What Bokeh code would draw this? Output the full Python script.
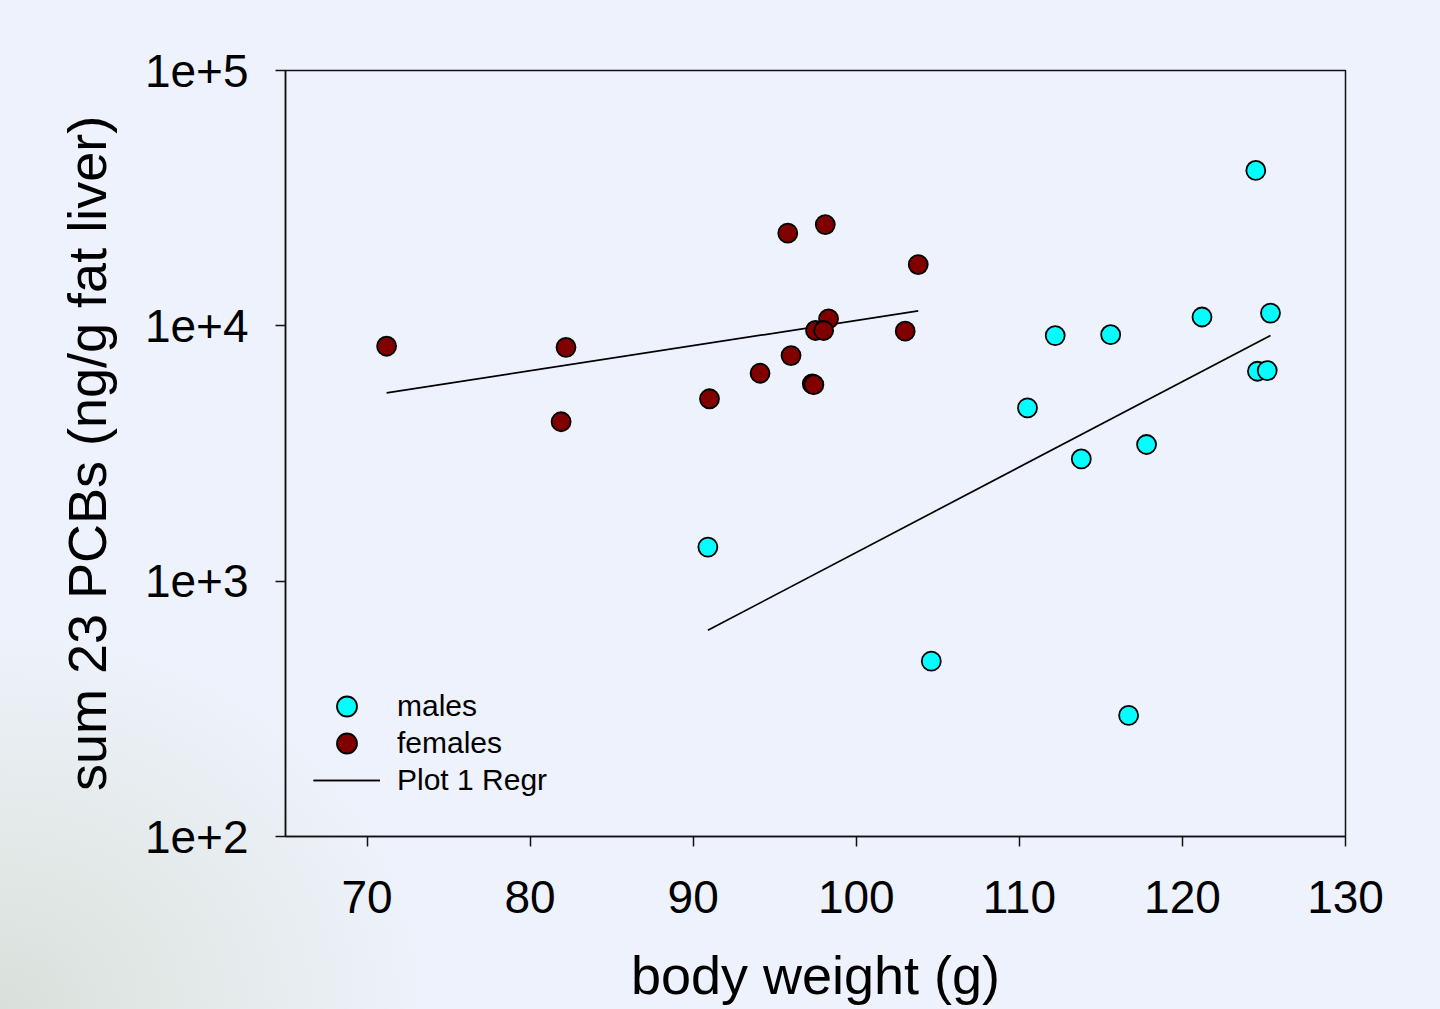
import numpy as np
from bokeh.plotting import figure
from bokeh.models import Legend, LegendItem, FixedTicker, GlobalInlineStyleSheet
from bokeh.embed import file_html
from bokeh.resources import INLINE

# ---- data ----
male_weight = [90.9, 104.6, 110.5, 112.2, 115.6, 113.8, 117.8, 116.7, 121.2, 125.4, 124.6, 125.2, 124.5]
male_pcb = [1360, 486, 4770, 9160, 9230, 3010, 3430, 298, 10830, 11220, 6640, 6680, 40600]

female_weight = [71.2, 82.2, 81.9, 91.0, 94.1, 96.0, 95.8, 98.1, 103.8, 98.3, 97.5, 98.0, 97.3, 97.4, 103.0]
female_pcb = [8320, 8240, 4210, 5180, 6520, 7650, 23060, 24930, 17380, 10650, 9590, 9590, 5930, 5880, 9530]

x_ticks = [70, 80, 90, 100, 110, 120, 130]
y_ticks = [100, 1000, 10000, 100000]
y_tick_labels = ["1e+2", "1e+3", "1e+4", "1e+5"]
legend_labels = ["males", "females", "Plot 1 Regr"]

FONT = "Liberation Sans"

# regression of log10(y) on x for each group
def regr(xs, ys):
    xs = np.asarray(xs, float)
    c = np.polyfit(xs, np.log10(ys), 1)
    xx = np.array([xs.min(), xs.max()])
    return xx, 10 ** np.polyval(c, xx)

mrx, mry = regr(male_weight, male_pcb)
frx, fry = regr(female_weight, female_pcb)

p = figure(width=1440, height=1016, x_range=(65, 130), y_range=(100, 100000),
           y_axis_type="log", output_backend="svg", toolbar_location=None,
           min_border_left=285, min_border_right=95, min_border_top=70, min_border_bottom=180)

p.border_fill_alpha = 0
p.background_fill_alpha = 0
p.outline_line_color = "#111111"
p.outline_line_width = 1.5
p.grid.visible = False

ln_m = p.line(mrx, mry, line_color="black", line_width=1.7)
ln_f = p.line(frx, fry, line_color="black", line_width=1.7)
r_f = p.scatter(female_weight, female_pcb, size=19, fill_color="#800000", line_color="black", line_width=1.8)
r_m = p.scatter(male_weight, male_pcb, size=19, fill_color="#00FFFF", line_color="black", line_width=1.8)

for ax in (p.xaxis[0], p.yaxis[0]):
    ax.axis_line_color = "#111111"
    ax.axis_line_width = 1.5
    ax.major_tick_line_color = "#111111"
    ax.major_tick_line_width = 1.5
    ax.major_tick_out = 10
    ax.major_tick_in = 0
    ax.minor_tick_line_color = None
    ax.major_label_text_font = FONT
    ax.major_label_text_font_size = "46px"
    ax.major_label_text_color = "black"
    ax.axis_label_text_font = FONT
    ax.axis_label_text_font_size = "54px"
    ax.axis_label_text_font_style = "normal"
    ax.axis_label_text_color = "black"

p.xaxis.ticker = FixedTicker(ticks=x_ticks)
p.yaxis.ticker = FixedTicker(ticks=y_ticks)
p.yaxis.major_label_overrides = {t: lab for t, lab in zip(y_ticks, y_tick_labels)}
p.xaxis.axis_label = "body weight (g)"
p.yaxis.axis_label = "sum 23 PCBs (ng/g fat liver)"
p.xaxis.major_label_standoff = 34
p.yaxis.major_label_standoff = 27
p.xaxis.axis_label_standoff = 29
p.yaxis.axis_label_standoff = 25

# one single-item legend per row, so marker size and row pitch can both match
rows = [([r_m], 105), ([r_f], 68), ([ln_m, ln_f], 31)]
for lab, (rends, yoff) in zip(legend_labels, rows):
    lg = Legend(items=[LegendItem(label=lab, renderers=rends)], location=(28, yoff),
                glyph_width=67, glyph_height=50, label_height=50, spacing=0,
                label_standoff=17, padding=0, margin=0, border_line_alpha=0, background_fill_alpha=0,
                label_text_font=FONT, label_text_font_size="30px", label_text_color="black")
    p.add_layout(lg)

p.stylesheets = [GlobalInlineStyleSheet(css=
    "html, body { overflow: hidden; background: radial-gradient(ellipse 430px 380px at 0% 100%, #d9e0db 0%, #e3e9e8 45%, #eef2fc 100%); background-color: #eef2fc; }")]

open("out.html", "w").write(file_html(p, INLINE))
